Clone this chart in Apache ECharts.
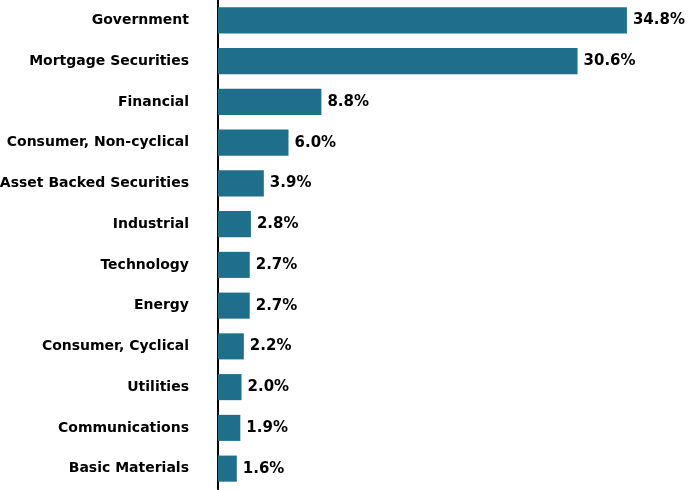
<!DOCTYPE html>
<html><head><meta charset="utf-8">
<script src="https://cdn.jsdelivr.net/npm/echarts@6/dist/echarts.min.js"></script>
<style>html,body{margin:0;padding:0;background:#fff}#c{width:688px;height:490px}</style>
</head><body><div id="c"></div>
<script>
const categories = ["Government","Mortgage Securities","Financial","Consumer, Non-cyclical","Asset Backed Securities","Industrial","Technology","Energy","Consumer, Cyclical","Utilities","Communications","Basic Materials"];
const values = [34.8,30.6,8.8,6.0,3.9,2.8,2.7,2.7,2.2,2.0,1.9,1.6];
const chart = echarts.init(document.getElementById('c'));
chart.setOption({
  animation:false,
  grid:{left:218,right:0,top:0,bottom:1,containLabel:false,outerBoundsMode:'none'},
  xAxis:{type:'value',min:0,max:40,show:false},
  yAxis:{type:'category',data:categories,inverse:true,
    axisLine:{show:true,lineStyle:{color:'#000',width:2}},
    axisTick:{show:false},
    axisLabel:{margin:29,color:'#000',fontFamily:'"DejaVu Sans", Verdana, sans-serif',fontWeight:'bold',fontSize:14}},
  series:[{type:'bar',data:values,barCategoryGap:'36%',
    itemStyle:{color:'#1f6e8c'},
    label:{show:true,position:'right',distance:6,color:'#000',fontFamily:'"DejaVu Sans", Verdana, sans-serif',fontWeight:'bold',fontSize:15,
      formatter:p=>p.value.toFixed(1)+'%'}}]
});
</script></body></html>
